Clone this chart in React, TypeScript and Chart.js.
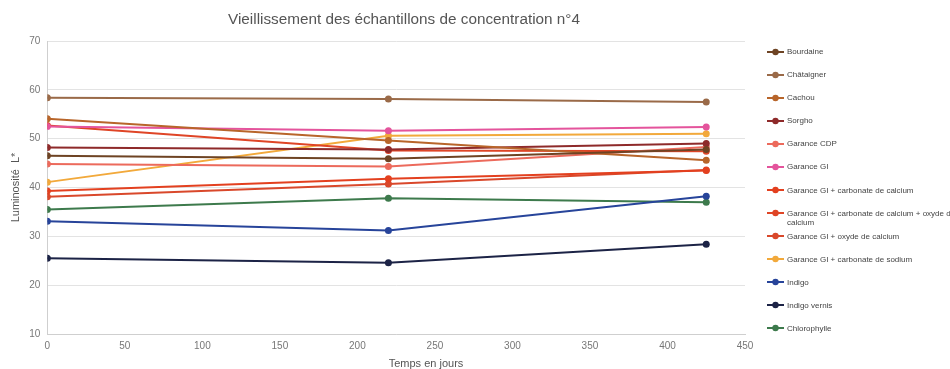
import React, { useEffect, useRef } from "react";
import { Chart, registerables } from "chart.js";

Chart.register(...registerables);

const days = [0, 220, 425];

const seriesNames = [
  "Bourdaine",
  "Châtaigner",
  "Cachou",
  "Sorgho",
  "Garance CDP",
  "Garance GI",
  "Garance GI +  carbonate de calcium",
  "Garance GI + carbonate de calcium + oxyde de calcium",
  "Garance GI + oxyde de calcium",
  "Garance GI + carbonate de sodium",
  "Indigo",
  "Indigo vernis",
  "Chlorophylle",
];

const bourdaine = [46.5, 45.9, 47.8];
const chataigner = [58.4, 58.1, 57.5];
const cachou = [54.1, 49.6, 45.6];
const sorgho = [48.2, 47.8, 49.0];
const garanceCDP = [44.8, 44.3, 48.3];
const garanceGI = [52.5, 51.6, 52.4];
const giCarbonate = [39.3, 41.8, 43.5];
const giCarbOxyde = [52.7, 47.6, 47.4];
const giOxyde = [38.1, 40.7, 43.6];
const giSodium = [41.1, 50.6, 51.0];
const indigo = [33.1, 31.2, 38.2];
const indigoVernis = [25.5, 24.6, 28.4];
const chlorophylle = [35.5, 37.8, 37.0];

const seriesValues = [
  bourdaine,
  chataigner,
  cachou,
  sorgho,
  garanceCDP,
  garanceGI,
  giCarbonate,
  giCarbOxyde,
  giOxyde,
  giSodium,
  indigo,
  indigoVernis,
  chlorophylle,
];

const colors = [
  "#6e4424",
  "#9a6a48",
  "#b8652a",
  "#8e2a2a",
  "#ec6a5c",
  "#e4549c",
  "#e3401f",
  "#df4526",
  "#d9482b",
  "#f2a93b",
  "#27449a",
  "#1c2346",
  "#3d7a4c",
];

const chartTitle = "Vieillissement des échantillons de concentration n°4";
const xTitle = "Temps en jours";

const FONT = "'Liberation Sans', Arial, Helvetica, sans-serif";

export default function App() {
  const canvasRef = useRef<HTMLCanvasElement | null>(null);

  useEffect(() => {
    document.body.style.margin = "0";
    const ctx = canvasRef.current;
    if (!ctx) return;
    const chart = new Chart(ctx, {
      type: "line",
      data: {
        datasets: seriesNames.map((name, i) => ({
          label: name,
          data: days.map((d, j) => ({ x: d, y: seriesValues[i][j] })),
          borderColor: colors[i],
          backgroundColor: colors[i],
          borderWidth: 2,
          pointRadius: 3.5,
          pointBorderWidth: 0,
          tension: 0,
          fill: false,
        })),
      },
      options: {
        animation: false,
        responsive: false,
        maintainAspectRatio: false,
        layout: { padding: { left: 9, right: 205, top: 41, bottom: 11 } },
        plugins: {
          legend: { display: false },
          tooltip: { enabled: false },
          title: { display: false },
        },
        scales: {
          x: {
            type: "linear",
            min: 0,
            max: 450,
            ticks: {
              stepSize: 50,
              color: "#777",
              font: { family: FONT, size: 10 },
              padding: 6,
            },
            grid: { display: false, drawTicks: false },
            border: { color: "#cfcfcf" },
          },
          y: {
            min: 10,
            max: 70,
            ticks: {
              stepSize: 10,
              color: "#777",
              font: { family: FONT, size: 10 },
              padding: 7,
            },
            grid: { color: "#e3e3e3", drawTicks: false },
            border: { color: "#cfcfcf" },
            title: {
              display: true,
              text: "Luminosité  L*",
              color: "#555",
              font: { family: FONT, size: 11 },
              padding: { top: 0, bottom: 0 },
            },
          },
        },
      },
    });
    return () => chart.destroy();
  }, []);

  return (
    <div
      style={{
        position: "relative",
        width: 950,
        height: 369,
        overflow: "hidden",
        background: "#fff",
        fontFamily: FONT,
      }}
    >
      <canvas
        ref={canvasRef}
        width={950}
        height={369}
        style={{ position: "absolute", left: 0, top: 0, width: 950, height: 369 }}
      />
      <div
        style={{
          position: "absolute",
          left: 154,
          width: 500,
          top: 10,
          textAlign: "center",
          fontSize: 15.3,
          lineHeight: "18px",
          color: "#555",
        }}
      >
        {chartTitle}
      </div>
      <div
        style={{
          position: "absolute",
          left: 326,
          width: 200,
          top: 357,
          textAlign: "center",
          fontSize: 11,
          lineHeight: "13px",
          color: "#555",
        }}
      >
        {xTitle}
      </div>
      {seriesNames.map((name, i) => (
        <div
          key={name}
          style={{
            position: "absolute",
            left: 767,
            top: 51.7 + i * 23.05 - 6,
            display: "flex",
            alignItems: "flex-start",
            fontSize: 8,
            lineHeight: "9.5px",
            color: "#444",
            whiteSpace: "normal",
          }}
        >
          <svg width={18} height={12} style={{ flex: "0 0 18px" }}>
            <line x1={0} y1={6} x2={17} y2={6} stroke={colors[i]} strokeWidth={2} />
            <circle cx={8.5} cy={6} r={3.2} fill={colors[i]} />
          </svg>
          <span style={{ marginLeft: 2, marginTop: 1.5, width: 172, display: "block" }}>{name}</span>
        </div>
      ))}
    </div>
  );
}
